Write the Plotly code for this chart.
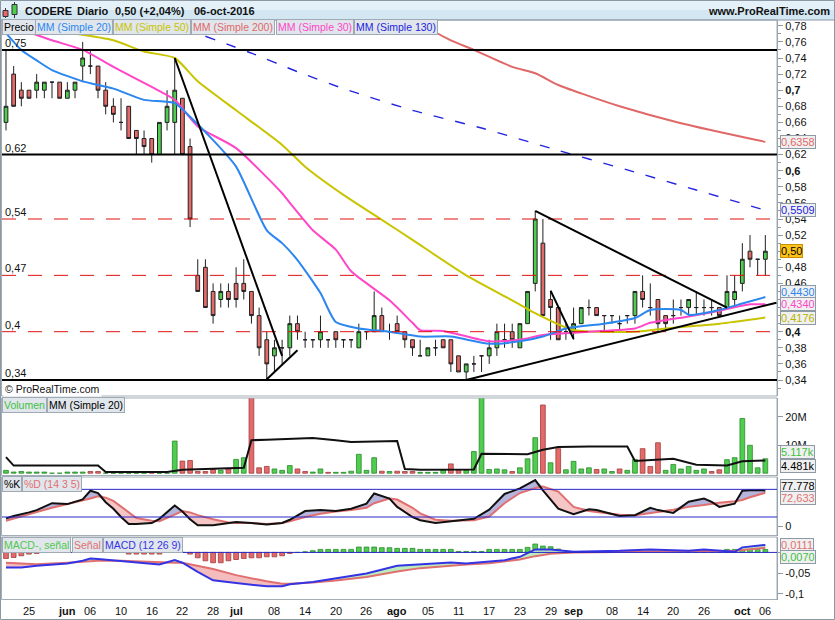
import plotly.graph_objects as go
import pandas as pd

FONT = "Liberation Sans, Arial, sans-serif"
W, H = 835, 620

# ---------------- data ----------------
dates = pd.bdate_range("2016-05-20", "2016-10-06").strftime("%Y-%m-%d").tolist()

price_open = [.66,.72,.70,.70,.70,.70,.71,.71,.69,.70, .73,.73,.73,.70,.68,.66,.68,.65,.64,.64,
              .62,.66,.66,.69,.63,.47,.48,.45,.44,.45, .46,.46,.45,.42,.39,.37,.38,.38,.41,.39,
              .39,.39,.39,.40,.39,.39,.38,.40,.40,.42, .40,.41,.40,.39,.37,.37,.38,.39,.39,.37,
              .35,.36,.37,.37,.38,.39,.40,.38,.41,.46, .51,.44,.43,.40,.40,.41,.43,.43,.42,.42,
              .41,.42,.42,.45,.43,.44,.42,.42,.43,.43, .43,.43,.43,.43,.43,.44,.46,.50,.49,.49]
price_high = [.75,.73,.71,.70,.72,.71,.71,.71,.71,.71, .76,.75,.73,.71,.69,.69,.68,.65,.65,.64,
              .66,.70,.74,.69,.64,.49,.49,.46,.46,.46, .48,.49,.45,.43,.40,.39,.39,.42,.42,.40,
              .39,.42,.39,.40,.39,.39,.41,.40,.45,.43, .41,.42,.40,.39,.39,.38,.39,.39,.39,.37,
              .36,.37,.37,.39,.41,.41,.41,.41,.45,.55, .54,.45,.43,.41,.43,.43,.44,.43,.42,.42,
              .42,.42,.45,.47,.46,.44,.42,.44,.44,.44, .45,.44,.44,.43,.47,.47,.51,.52,.49,.52]
price_low = [.65,.68,.68,.69,.69,.69,.69,.69,.69,.69, .71,.72,.69,.67,.66,.65,.64,.62,.62,.61,
             .62,.65,.62,.62,.53,.45,.43,.41,.43,.43, .43,.44,.41,.37,.34,.35,.36,.37,.39,.38,
             .38,.38,.38,.38,.38,.38,.38,.39,.40,.40, .39,.40,.38,.37,.37,.37,.37,.38,.35,.35,
             .34,.35,.35,.36,.37,.38,.38,.38,.41,.45, .42,.39,.39,.39,.39,.41,.42,.42,.40,.41,
             .40,.41,.41,.43,.42,.40,.40,.41,.42,.42, .42,.42,.42,.42,.43,.43,.45,.48,.47,.47]
price_close = [.68,.68,.69,.69,.71,.71,.71,.69,.70,.71, .74,.73,.70,.68,.67,.66,.64,.64,.63,.62,
               .66,.68,.70,.62,.54,.45,.43,.42,.45,.44, .44,.45,.42,.38,.36,.38,.38,.41,.40,.39,
               .39,.40,.39,.39,.39,.39,.40,.40,.42,.40, .40,.40,.39,.38,.37,.38,.38,.38,.36,.35,
               .36,.36,.37,.38,.40,.39,.39,.41,.45,.54, .42,.43,.39,.40,.41,.43,.43,.42,.42,.42,
               .41,.42,.45,.44,.43,.41,.41,.42,.43,.44, .43,.43,.43,.42,.45,.45,.49,.49,.49,.50]

# moving averages read at selected sessions (index into dates)
ma20_idx = [0,2,4,6,10,14,18,22,24,27,30,34,36,38,41,43,46,50,54,58,63,67,70,73,78,82,84,88,89,93,96,99]
ma20_val = [0.771,0.750,0.737,0.725,0.711,0.702,0.688,0.684,0.667,0.638,0.605,0.526,0.510,0.489,0.448,0.412,
            0.404,0.400,0.394,0.394,0.385,0.388,0.394,0.404,0.410,0.417,0.427,0.427,0.421,0.427,0.435,0.443]
ma30_idx = [3,6,10,14,19,22,25,30,36,37,40,43,45,50,53,54,57,63,67,70,76,82,84,89,93,97,99]
ma30_val = [0.772,0.762,0.750,0.729,0.704,0.688,0.655,0.628,0.572,0.560,0.526,0.502,0.475,0.439,0.411,
            0.402,0.401,0.388,0.390,0.396,0.400,0.404,0.411,0.419,0.426,0.434,0.434]
ma50_idx = [9,14,18,22,25,30,36,39,44,49,53,60,66,69,74,82,87,93,99]
ma50_val = [0.770,0.762,0.748,0.740,0.711,0.675,0.632,0.605,0.570,0.539,0.514,0.470,0.439,0.423,0.402,
            0.400,0.405,0.410,0.4176]
ma200_idx = [54,56,58,61,66,69,72,75,80,88,99]
ma200_val = [0.785,0.772,0.762,0.750,0.729,0.721,0.7065,0.696,0.680,0.659,0.6358]
ma130_idx = [26,32,38,44,53,62,71,81,90,99]
ma130_val = [0.767,0.746,0.723,0.702,0.675,0.653,0.628,0.601,0.576,0.5509]

# horizontal levels
black_levels = [0.75, 0.62, 0.34]
red_levels = [0.54, 0.47, 0.40]
level_labels = {0.75: "0,75", 0.62: "0,62", 0.54: "0,54", 0.47: "0,47", 0.40: "0,4", 0.34: "0,34"}

# trendlines: (start index, start price, end index, end price)
trendlines = [(22, 0.740, 36, 0.370), (34, 0.341, 38, 0.377), (69, 0.550, 94, 0.430),
              (60, 0.340, 100.45, 0.436), (71, 0.451, 74, 0.391)]

# volume (millions)
volume_m = [1.0,0.4,0.6,0.4,0.4,0.4,0,0,0.4,0.4, 0.4,0.6,0.6,0,0,0,0,0,0,0.2,
            0,0,11.4,4.3,4.5,0.6,0.6,1.3,1.0,1.5, 4.9,5.5,32,1.9,2.4,1.5,1.0,2.7,1.5,0.6,
            0.4,1.5,0.3,0.3,0.3,0.7,6.7,1.0,5.5,0.7, 0.6,0.7,0.6,0.6,0.3,0.3,0.3,1.0,3.3,1.0,
            1.0,7.7,32,1.3,1.5,1.2,0.6,1.9,5.1,12.6, 24.2,3.7,8.7,1.2,4.2,1.5,1.9,1.3,1.5,0.6,
            1.5,1.0,4.9,8.7,2.4,10.8,1.0,3.1,1.5,2.4, 1.0,1.5,0.6,1.2,4.8,5.5,19.4,9.9,1.9,5.117]
volume_up = [1,1,1,1,1,1,1,1,1,1, 1,0,0,1,1,1,1,1,1,0, 1,1,1,0,0,0,0,0,1,0,
             1,1,0,0,0,1,1,1,0,0, 1,1,0,1,1,1,1,1,1,0, 1,0,0,0,1,1,1,1,0,0,
             1,1,1,1,1,1,0,1,1,1, 0,1,0,1,1,1,1,0,1,1, 0,1,1,0,0,0,1,1,1,1,
             1,1,0,0,1,1,1,1,1,1]
vma_idx = [0,1,12,13,21,23,31,32,34,40,43,45,51,52,54,61,62,68,70,72,76,81,82,87,90,94,96,99]
vma_val = [5.7,2.7,2.7,0.4,0.4,1.2,1.9,11.7,11.9,12.5,11.7,11.1,11.4,1.5,1.2,1.3,6.9,6.7,8.3,9.3,
           9.5,9.5,4.3,5.1,3.0,2.7,4.2,4.481]

# stochastic
stoch_idx = [0,1,3,4,6,8,10,11,12,13,14,15,16,17,19,20,22,23,24,25,27,29,30,32,34,36,37,39,41,43,
             45,47,48,50,51,53,54,56,58,61,63,65,67,69,70,72,74,76,77,80,82,84,85,87,89,91,92,93,95,96,97,99]
stoch_k = [17,22,30,35,50,48,58,77,72,52,38,20,5,5,7,16,45,32,15,2,2,7,9,7,4,7,14,33,35,33,
           38,49,71,60,42,20,13,7,10.5,16,36,70,82,100,78,38,26,37,35,22,24,40,35,29,53,60,53,42,49,77,78,77.778]
stoch_d = [12,17,27,31,40,48,55,60,65,62,55,42,30,18,12,11,25,33,30,24,15,8,7,7,5,7,11,20,27,32,
           35,40,50,60,58,40,28,14,12,13,21,50,72,83,86,75,42,33,31,25,24,28,31,36,42,46,49,51,54,57,63,72.633]

# MACD
macd_idx = [0,2,4,8,10,11,12,15,18,20,22,23,25,27,30,31,33,34,36,37,40,43,47,51,54,58,60,63,65,67,
            69,71,74,80,84,89,91,95,96,99]
macd_line = [-0.0366,-0.0365,-0.0325,-0.0268,-0.020,-0.0146,-0.016,-0.021,-0.025,-0.029,
             -0.0187,-0.025,-0.047,-0.0675,-0.074,-0.0756,-0.0797,-0.082,-0.082,-0.077,
             -0.0715,-0.063,-0.051,-0.0325,-0.029,-0.0244,-0.027,-0.021,-0.0187,-0.0106,
             0.0073,0.0073,0.0016,0.004,0.0073,0.004,0.0073,0.0016,0.0122,0.0181]
macd_signal = [-0.025,-0.027,-0.0285,-0.025,-0.022,-0.0203,-0.020,-0.0203,-0.023,-0.025,
               -0.025,-0.025,-0.032,-0.040,-0.055,-0.059,-0.0675,-0.070,-0.0756,-0.0756,
               -0.073,-0.068,-0.0593,-0.046,-0.038,-0.031,-0.029,-0.026,-0.022,-0.017,
               -0.009,-0.003,0.0,0.0016,0.0025,0.0033,0.0035,0.0035,0.006,0.0111]
macd_hist = [-0.0146,-0.0122,-0.0081,-0.0041,-0.0024,0,0,0,0,0, 0,0,0,0,0,0,-0.004,-0.004,-0.004,-0.004,
             -0.004,0,0,0,-0.004,-0.0130,-0.0203,-0.025,-0.025,-0.0203, -0.0171,-0.0146,-0.0130,-0.0130,-0.0106,-0.0106,-0.0081,-0.0024,0,0.0016,
             0.0041,0.0073,0.0073,0.0073,0.0073,0.0073,0.0130,0.0130,0.0130,0.0114, 0.0114,0.0098,0.0098,0.0098,0.0073,0.0073,0.0073,0.0073,0.0073,0.0024,
             0.0024,0.0024,0.0024,0.0073,0.0073,0.0073,0.0073,0.0073,0.0122,0.0203, 0.0154,0.0138,0.0081,0.0024,0.0024,0.0024,0.0024,0.0024,0.0024,0.0024,
             0.0024,0.0024,0.0024,0.0024,0.0024,0.0024,0.0024,0.0024,0.0024,0.0024, 0.0024,0.0024,0.0024,0.0024,0.0073,0.0073,0.0073,0.0073,0.0073,0.0070]

# x tick labels
xtick_idx = [3,8,11,15,19,23,27,30,35,39,43,47,51,55,59,63,67,71,74,79,83,87,91,96,99]
xtick_text = ["25","<b>jun</b>","06","10","16","22","28","<b>jul</b>","08","14","20","26","<b>ago</b>",
              "05","11","17","23","29","<b>sep</b>","08","14","20","26","<b>oct</b>","06"]
price_ticks = [0.34,0.36,0.38,0.40,0.42,0.44,0.46,0.48,0.50,0.52,0.54,0.56,0.58,0.60,0.62,0.64,0.66,0.68,0.70,0.72,0.74,0.76,0.78]

# ---------------- helpers ----------------
def fx(px):
    return px / W

def fy(py):
    return 1 - py / H

def dx(idx):
    return [dates[i] for i in idx]

def comma(v, nd):
    return f"{v:.{nd}f}".replace(".", ",")

def price_label(v):
    major = abs(v * 10 - round(v * 10)) < 1e-9
    s = (f"{v:.1f}" if major else f"{v:.2f}").replace(".", ",")
    return f"<b>{s}</b>" if major else s

GREEN = "#50cc50"
RED = "#e46a6a"
SALMON = "#e07070"

fig = go.Figure()

# ---------------- price panel ----------------
fig.add_trace(go.Candlestick(
    x=dates, open=price_open, high=price_high, low=price_low, close=price_close,
    xaxis="x", yaxis="y", whiskerwidth=0, hoverinfo="skip", showlegend=False,
    increasing=dict(line=dict(color="#202020", width=1), fillcolor=GREEN),
    decreasing=dict(line=dict(color="#202020", width=1), fillcolor=RED)))

for idx, val, color, dash, w in [
    (ma200_idx, ma200_val, "#e06868", "solid", 2),
    (ma130_idx, ma130_val, "#2424e0", "10px,12px", 1.4),
    (ma50_idx, ma50_val, "#c8c400", "solid", 2),
    (ma30_idx, ma30_val, "#ff46c8", "solid", 2),
    (ma20_idx, ma20_val, "#2b86f0", "solid", 2),
]:
    fig.add_trace(go.Scatter(x=dx(idx), y=val, mode="lines", yaxis="y", hoverinfo="skip",
                             line=dict(color=color, width=w, dash=dash, shape="spline", smoothing=0.6)))

# ---------------- volume panel ----------------
fig.add_trace(go.Bar(x=dates, y=volume_m, yaxis="y2", width=0.62, hoverinfo="skip",
                     marker=dict(color=[GREEN if u else RED for u in volume_up],
                                 line=dict(color=["#2a8a2a" if u else "#a03c3c" for u in volume_up], width=0.8))))
fig.add_trace(go.Scatter(x=dx(vma_idx), y=vma_val, mode="lines", yaxis="y2", hoverinfo="skip",
                         line=dict(color="#101010", width=2)))

# ---------------- fills between two lines ----------------
def band(xs, a, b, col_hi, col_lo, yaxis):
    hi = [max(p, q) for p, q in zip(a, b)]
    lo = [min(p, q) for p, q in zip(a, b)]
    for arr, col in ((hi, col_hi), (lo, col_lo)):
        fig.add_trace(go.Scatter(x=xs, y=b, mode="lines", line=dict(width=0), yaxis=yaxis, hoverinfo="skip"))
        fig.add_trace(go.Scatter(x=xs, y=arr, mode="lines", line=dict(width=0), fill="tonexty",
                                 fillcolor=col, yaxis=yaxis, hoverinfo="skip"))

# ---------------- stochastic ----------------
band(dx(stoch_idx), stoch_k, stoch_d, "#b4b4dc", "#f4c6c6", "y3")
fig.add_trace(go.Scatter(x=dx(stoch_idx), y=stoch_d, mode="lines", yaxis="y3", hoverinfo="skip",
                         line=dict(color=SALMON, width=2)))
fig.add_trace(go.Scatter(x=dx(stoch_idx), y=stoch_k, mode="lines", yaxis="y3", hoverinfo="skip",
                         line=dict(color="#111111", width=2)))

# ---------------- MACD ----------------
fig.add_trace(go.Bar(x=dates, y=macd_hist, yaxis="y4", width=0.62, hoverinfo="skip",
                     marker=dict(color=[GREEN if v >= 0 else RED for v in macd_hist],
                                 line=dict(color=["#2a8a2a" if v >= 0 else "#a03c3c" for v in macd_hist], width=0.8))))
band(dx(macd_idx), macd_line, macd_signal, "#bcecbc", "#f4bcbc", "y4")
fig.add_trace(go.Scatter(x=dx(macd_idx), y=macd_signal, mode="lines", yaxis="y4", hoverinfo="skip",
                         line=dict(color=SALMON, width=2)))
fig.add_trace(go.Scatter(x=dx(macd_idx), y=macd_line, mode="lines", yaxis="y4", hoverinfo="skip",
                         line=dict(color="#3434e4", width=2)))

# ---------------- shapes ----------------
shapes = []
# title bar
shapes.append(dict(type="rect", xref="paper", yref="paper", x0=0, x1=1, y0=fy(10), y1=1,
                   fillcolor="#e4f1f9", line=dict(width=0), layer="below"))
shapes.append(dict(type="rect", xref="paper", yref="paper", x0=0, x1=1, y0=fy(20), y1=fy(10),
                   fillcolor="#d3e7f3", line=dict(width=0), layer="below"))
# candle icon
shapes += [
    dict(type="line", xref="paper", yref="paper", x0=fx(5.5), x1=fx(5.5), y0=fy(18), y1=fy(8), line=dict(color="#333", width=1)),
    dict(type="rect", xref="paper", yref="paper", x0=fx(3), x1=fx(8), y0=fy(16.5), y1=fy(10.5), fillcolor=RED, line=dict(color="#333", width=1)),
    dict(type="line", xref="paper", yref="paper", x0=fx(14.5), x1=fx(14.5), y0=fy(18), y1=fy(2), line=dict(color="#333", width=1)),
    dict(type="rect", xref="paper", yref="paper", x0=fx(12), x1=fx(17), y0=fy(14.5), y1=fy(4.5), fillcolor=GREEN, line=dict(color="#333", width=1)),
]
FRAME = "#a4aeb8"
for top, bot in [(20, 396), (398, 475.5), (477, 535.5), (537, 599.5)]:
    shapes.append(dict(type="rect", xref="paper", yref="paper", x0=fx(1.5), x1=fx(777), y0=fy(bot), y1=fy(top),
                       line=dict(color=FRAME, width=1), fillcolor="rgba(0,0,0,0)", layer="above"))
shapes.append(dict(type="rect", xref="paper", yref="paper", x0=fx(0.5), x1=fx(834.5), y0=fy(619.5), y1=fy(0.5),
                   line=dict(color="#8c98a4", width=1), fillcolor="rgba(0,0,0,0)", layer="above"))
shapes.append(dict(type="line", xref="paper", yref="paper", x0=0, x1=1, y0=fy(20), y1=fy(20),
                   line=dict(color="#8c98a4", width=1)))
# price levels
for v in red_levels:
    shapes.append(dict(type="line", xref="x domain", yref="y", x0=0, x1=1, y0=v, y1=v,
                       line=dict(color="#e01010", width=1, dash="14px,12px"), layer="above"))
for v in black_levels:
    shapes.append(dict(type="line", xref="x domain", yref="y", x0=0, x1=1, y0=v, y1=v,
                       line=dict(color="#000000", width=2), layer="above"))
for c0, p0, c1, p1 in trendlines:
    shapes.append(dict(type="line", xref="x", yref="y", x0=c0, x1=c1, y0=p0, y1=p1,
                       line=dict(color="#000000", width=2), layer="above"))
# stochastic levels / MACD zero
for v in (80, 20):
    shapes.append(dict(type="line", xref="x domain", yref="y3", x0=0, x1=1, y0=v, y1=v,
                       line=dict(color="#2828c8", width=1), layer="above"))
shapes.append(dict(type="line", xref="x domain", yref="y4", x0=0, x1=1, y0=0, y1=0,
                   line=dict(color="#2828c8", width=1), layer="above"))

# ---------------- annotations ----------------
ann = []

def text(x, y, s, size=11, color="black", bold=False, yref="paper", xanchor="left", yanchor="middle", **kw):
    ann.append(dict(x=fx(x), xref="paper", y=fy(y) if yref == "paper" else y, yref=yref, text=f"<b>{s}</b>" if bold else s,
                    showarrow=False, xanchor=xanchor, yanchor=yanchor,
                    font=dict(size=size, color=color, family=FONT), **kw))

last, prev = price_close[-1], price_close[-2]
chg = (last - prev) / prev * 100
text(23, 10.5, "CODERE", bold=True, color="#111")
text(75, 10.5, "Diario", bold=True, color="#111")
text(113, 10.5, f"{comma(last, 2)} (+{comma(chg, 2)}%)", bold=True, color="#111")
text(192, 10.5, "06-oct-2016", bold=True, color="#111")
text(832, 10.5, "www.ProRealTime.com", bold=True, color="#111", xanchor="right")

# x-axis labels under the MACD panel
for i, s in zip(xtick_idx, xtick_text):
    ann.append(dict(x=dates[i], xref="x", y=fy(610.5), yref="paper", text=s, showarrow=False,
                    xanchor="center", yanchor="middle", font=dict(size=11, color="#111", family=FONT)))

BOXBG = "#e0e6ec"
BOXLN = "#a0aab4"

def legend_box(x, y, s, color):
    text(x, y, s, size=10.5, color=color, bgcolor=BOXBG, bordercolor=BOXLN, borderwidth=1, borderpad=1)

legend_box(2, 27, "Precio", "#000")
legend_box(35, 27, "MM (Simple 20)", "#2b86f0")
legend_box(113, 27, "MM (Simple 50)", "#c8c400")
legend_box(191, 27, "MM (Simple 200)", "#e06868")
legend_box(276, 27, "MM (Simple 30)", "#ff46c8")
legend_box(354, 27, "MM (Simple 130)", "#2424e0")
legend_box(2, 405, "Volumen", "#40c040")
legend_box(47, 405, "MM (Simple 20)", "#000")
legend_box(2, 484, "%K", "#000")
legend_box(22, 484, "%D (14 3 5)", SALMON)
legend_box(2, 544.5, "MACD-, señal", "#50c850")
legend_box(72, 544.5, "Señal", SALMON)
legend_box(103, 544.5, "MACD (12 26 9)", "#3434e4")

text(3, 389, "© ProRealTime.com", size=10.5, color="#111", bgcolor="white")

for v in black_levels + red_levels:
    text(3, v, level_labels[v], size=11, color="#111", yref="y", yanchor="bottom", yshift=-1)

def right_box(v, yref, s, color, bg="#f0f0f0", border="#8e9aa6", yshift=0):
    ann.append(dict(x=fx(780), xref="paper", y=v, yref=yref, yshift=yshift, text=s, showarrow=False,
                    xanchor="left", yanchor="middle", font=dict(size=11, color=color, family=FONT),
                    bgcolor=bg, bordercolor=border, borderwidth=1, borderpad=0, height=12))

right_box(ma200_val[-1], "y", comma(ma200_val[-1], 4), "#e06868")
right_box(ma130_val[-1], "y", comma(ma130_val[-1], 4), "#2424e0")
right_box(price_close[-1], "y", comma(price_close[-1], 2), "#000", bg="#ffc31a", border="#c89000")
right_box(ma20_val[-1], "y", comma(ma20_val[-1], 4), "#2b86f0", yshift=5)
right_box(ma30_val[-1], "y", comma(ma30_val[-1], 4), "#ff46c8")
right_box(ma50_val[-1], "y", comma(ma50_val[-1], 4), "#b8b400")
right_box(volume_m[-1], "y2", f"{volume_m[-1] * 1000:,.0f}".replace(",", ".") + "k", "#40c040", yshift=7)
right_box(vma_val[-1], "y2", f"{vma_val[-1] * 1000:,.0f}".replace(",", ".") + "k", "#000", yshift=-5)
right_box(stoch_k[-1], "y3", f"{stoch_k[-1]:.3f}", "#000", yshift=4)
right_box(stoch_d[-1], "y3", comma(stoch_d[-1], 3), SALMON, yshift=-5)
right_box(macd_signal[-1], "y4", comma(macd_signal[-1], 4), SALMON, yshift=3)
right_box(macd_hist[-1], "y4", comma(macd_hist[-1], 4), "#40c040", yshift=-7)

# ---------------- layout ----------------
AX = "#8e9aa6"
yax_common = dict(side="right", anchor="x", showgrid=False, zeroline=False, showline=True, linecolor=AX,
                  ticks="outside", ticklen=5, tickcolor=AX, tickfont=dict(size=11, family=FONT, color="#111"),
                  fixedrange=True)

fig.update_layout(
    width=W, height=H, margin=dict(l=0, r=0, t=0, b=0),
    paper_bgcolor="white", plot_bgcolor="white", showlegend=False, separators=",.",
    xaxis=dict(domain=[fx(2), fx(777)], type="category", range=[-0.52, 100.52], anchor="y4",
               showticklabels=False, ticks="", showgrid=False, zeroline=False, showline=False,
               rangeslider=dict(visible=False), fixedrange=True),
    yaxis=dict(domain=[fy(396), fy(20)], range=[0.32012, 0.78720], tickmode="array",
               tickvals=price_ticks, ticktext=[price_label(v) for v in price_ticks],
               minor=dict(dtick=0.01, tick0=0, ticks="outside", ticklen=3, tickcolor=AX), **yax_common),
    yaxis2=dict(domain=[fy(475.5), fy(398)], range=[-0.82, 26.68], tickmode="array",
                tickvals=[10, 20], ticktext=["10M", "20M"], **yax_common),
    yaxis3=dict(domain=[fy(535.5), fy(477)], range=[-20.1, 106.8], tickmode="array",
                tickvals=[0], ticktext=["0"], **yax_common),
    yaxis4=dict(domain=[fy(599.5), fy(537)], range=[-0.1139, 0.0373], tickmode="array",
                tickvals=[0, -0.05, -0.1], ticktext=["0", "-0,05", "-0,1"], **yax_common),
    shapes=shapes, annotations=ann, bargap=0.3, boxgap=0.3,
)

fig.write_html("out.html", config={"displayModeBar": False},
               post_script="document.body.style.margin='0px';document.body.style.overflow='hidden';")
